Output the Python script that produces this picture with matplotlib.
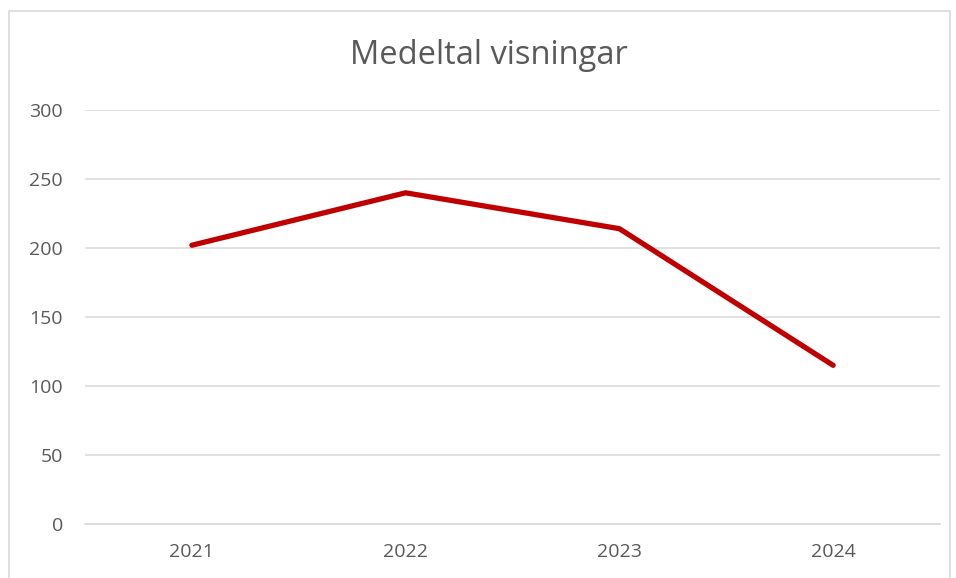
import matplotlib
matplotlib.use("Agg")
from matplotlib import pyplot as plt
from matplotlib.patches import Rectangle

# Average views per year
years = ["2021", "2022", "2023", "2024"]
views = [202, 240, 214, 115]
y_ticks = [0, 50, 100, 150, 200, 250, 300]

plt.rcParams["font.family"] = ["Open Sans", "DejaVu Sans"]
text_color = "#595959"
grid_color = "#D9D9D9"

fig = plt.figure(figsize=(9.56, 5.78), dpi=100)
ax = fig.add_axes([85 / 956, 54 / 578, 855 / 956, 414 / 578])

x = list(range(len(years)))
ax.plot(x, views, color="#C00000", linewidth=3.8, solid_capstyle="round", zorder=3)

ax.set_xlim(-0.5, len(years) - 0.5)
ax.set_ylim(0, 300)
ax.set_xticks(x, years)
ax.set_yticks(y_ticks)
ax.yaxis.grid(True, color=grid_color, linewidth=1.1)
ax.set_axisbelow(True)
for side in ["top", "right", "left"]:
    ax.spines[side].set_visible(False)
ax.spines["bottom"].set_color(grid_color)
ax.spines["bottom"].set_linewidth(1.1)
ax.tick_params(length=0, labelsize=14, colors=text_color)
ax.tick_params(axis="y", pad=16)
ax.tick_params(axis="x", pad=14)

fig.text(489 / 956, 1 - 55 / 578, "Medeltal visningar", ha="center", va="center",
         fontsize=23.5, color=text_color)

# chart frame like the spreadsheet border
fig.patches.append(Rectangle((9 / 956, -0.05), 941 / 956, 1 - 11 / 578 + 0.05,
                             transform=fig.transFigure, fill=False,
                             edgecolor=grid_color, linewidth=1.2))

fig.savefig("out.png", dpi=100)
